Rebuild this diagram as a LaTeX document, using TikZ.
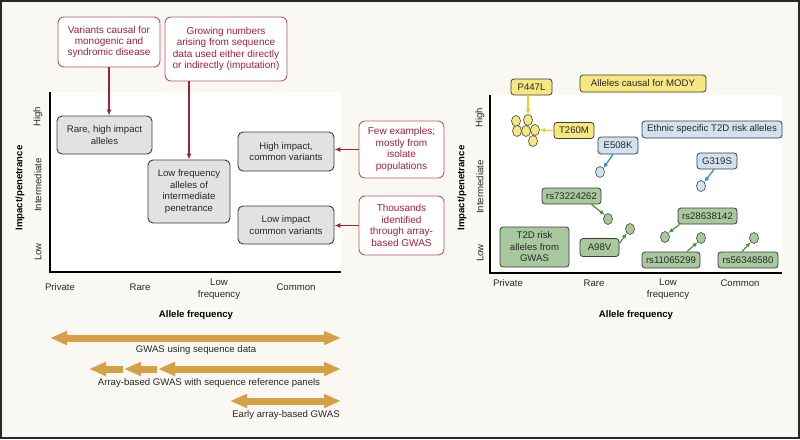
\documentclass[tikz,border=0pt]{standalone}
\usepackage{fontspec}
\setmainfont{Liberation Sans}
\usetikzlibrary{arrows.meta,shapes.geometric}

\definecolor{paper}{RGB}{249,248,243}
\definecolor{inkDark}{RGB}{40,40,40}
\definecolor{noteRed}{RGB}{163,32,56}
\definecolor{noteEdge}{RGB}{192,84,104}
\definecolor{boxGray}{RGB}{226,226,226}
\definecolor{edgeDark}{RGB}{60,60,60}
\definecolor{gwasOrange}{RGB}{214,160,70}
\definecolor{modyFill}{RGB}{246,232,128}
\definecolor{modyArrow}{RGB}{240,206,40}
\definecolor{ethFill}{RGB}{208,226,240}
\definecolor{ethArrow}{RGB}{40,140,205}
\definecolor{gwFill}{RGB}{168,200,158}
\definecolor{gwArrow}{RGB}{70,150,50}

\begin{document}
\begin{tikzpicture}[
    x=1pt, y=-1pt,
    every node/.style={font=\fontsize{9.6}{11.5}\selectfont, text=inkDark, inner sep=0pt},
    note/.style={rectangle, rounded corners=6pt, draw=noteEdge, fill=white, text=noteRed, align=center, line width=0.9pt, font=\fontsize{10}{11.4}\selectfont},
    cat/.style={rectangle, rounded corners=5pt, draw=edgeDark, fill=boxGray, align=center, line width=0.9pt},
    label/.style={rectangle, rounded corners=3pt, draw=edgeDark, line width=0.8pt, align=center, minimum height=16pt},
    allele/.style={ellipse, draw=edgeDark, line width=0.6pt, minimum width=9pt, minimum height=11pt},
    axtitle/.style={font=\fontsize{9.6}{11.5}\selectfont\bfseries, text=black},
    redarr/.style={draw=noteRed, line width=1.2pt, -{Latex[length=6pt,width=5pt]}},
    modyarr/.style={draw=modyArrow, line width=1.2pt, -{Latex[length=5pt,width=4.5pt]}},
    etharr/.style={draw=ethArrow, line width=1.2pt, -{Latex[length=5pt,width=4.5pt]}},
    gwarr/.style={draw=gwArrow, line width=1.2pt, -{Latex[length=5pt,width=4.5pt]}},
    gwasbar/.style={draw=gwasOrange, line width=7pt}
]
    % Frame and plot areas
    \fill[paper] (0,0) rectangle (800,439);
    \draw[inkDark, line width=2pt] (1,1) rectangle (799,438);
    \fill[white] (50,92) rectangle (341,272);
    \fill[white] (490,95) rectangle (782,273);
    \draw[black, line width=1.3pt] (50,92) -- (50,272) -- (341,272);
    \draw[black, line width=1.3pt] (490,95) -- (490,273) -- (782,273);
    \useasboundingbox (0,0) rectangle (800,439);

    % Left panel: categories
    \node[cat, minimum width=95pt, minimum height=38pt] (rarehigh) at (104.5,135) {Rare, high impact\\alleles};
    \node[cat, minimum width=82pt, minimum height=63pt] (lowfreq) at (189,191.5) {Low frequency\\alleles of\\intermediate\\penetrance};
    \node[cat, minimum width=96pt, minimum height=39pt] (highcommon) at (286,151.5) {High impact,\\common variants};
    \node[cat, minimum width=96pt, minimum height=38pt] (lowcommon) at (286,225) {Low impact\\common variants};

    % Left panel: notes
    \node[note, minimum width=102pt, minimum height=50pt] (causal) at (109,42) {Variants causal for\\monogenic and\\syndromic disease};
    \node[note, minimum width=122pt, minimum height=64pt] (growing) at (226,49) {Growing numbers\\arising from sequence\\data used either directly\\or indirectly (imputation)};
    \node[note, minimum width=85pt, minimum height=57pt] (few) at (401.5,149.5) {Few examples;\\mostly from\\isolate\\populations};
    \node[note, minimum width=85pt, minimum height=59pt] (thousands) at (401.5,225.5) {Thousands\\identified\\through array-\\based GWAS};

    \draw[redarr] (causal.south) -- (causal.south |- rarehigh.north);
    \draw[redarr] (lowfreq.north |- growing.south) -- (lowfreq.north);
    \draw[redarr] (few.west) -- (few.west -| highcommon.east);
    \draw[redarr] (thousands.west) -- (thousands.west -| lowcommon.east);

    % Left panel: axes labels
    \node[axtitle, rotate=90] (lyaxis) at (20,188) {Impact/penetrance};
    \node[rotate=90] (lhigh) at (38,117) {High};
    \node[rotate=90] (lmid) at (38,185) {Intermediate};
    \node[rotate=90] (llow) at (38,252) {Low};
    \node (lpriv) at (60,287) {Private};
    \node (lrare) at (140,287) {Rare};
    \node[align=center] (llowf) at (219,289) {Low\\frequency};
    \node (lcommon) at (296,287) {Common};
    \node[axtitle] (lxaxis) at (196,315) {Allele frequency};

    % GWAS ranges
    \coordinate (g1a) at (50,338);  \coordinate (g1b) at (341,338);
    \coordinate (g2a) at (89,369);  \coordinate (g2b) at (123,369);
    \coordinate (g2c) at (124,369); \coordinate (g2d) at (157,369);
    \coordinate (g2e) at (158,369); \coordinate (g2f) at (341,369);
    \coordinate (g3a) at (230,401); \coordinate (g3b) at (341,401);
    \draw[gwasbar, {Triangle[length=17pt,width=13pt]}-{Triangle[length=17pt,width=13pt]}] (g1a) -- (g1b);
    \draw[gwasbar, -{Triangle[length=17pt,width=13pt]}] (g2b) -- (g2a);
    \draw[gwasbar, -{Triangle[length=17pt,width=13pt]}] (g2d) -- (g2c);
    \draw[gwasbar, {Triangle[length=17pt,width=13pt]}-{Triangle[length=17pt,width=13pt]}] (g2e) -- (g2f);
    \draw[gwasbar, {Triangle[length=17pt,width=13pt]}-{Triangle[length=17pt,width=13pt]}] (g3a) -- (g3b);
    \node (gseq) at (196,350) {GWAS using sequence data};
    \node (garray) at (209,383) {Array-based GWAS with sequence reference panels};
    \node (gearly) at (286,415) {Early array-based GWAS};

    % Right panel: MODY alleles
    \node[label, fill=modyFill, minimum width=126pt, minimum height=17pt] (mody) at (643,83.5) {Alleles causal for MODY};
    \node[label, fill=modyFill, minimum width=41pt] (p447) at (531.5,87) {P447L};
    \node[label, fill=modyFill, minimum width=40pt] (t260) at (574,130.5) {T260M};
    \node[allele, fill=modyFill] (y1) at (516,121) {};
    \node[allele, fill=modyFill] (y2) at (528,120) {};
    \node[allele, fill=modyFill] (y3) at (517,131) {};
    \node[allele, fill=modyFill] (y4) at (526,131) {};
    \node[allele, fill=modyFill] (y5) at (535,130) {};
    \node[allele, fill=modyFill] (y6) at (533,141) {};
    \draw[modyarr] (y2.north |- p447.south) -- (y2.north);
    \draw[modyarr] (t260.west) -- (y5.east);

    % Right panel: ethnic specific alleles
    \node[label, fill=ethFill, minimum width=140pt, minimum height=17pt] (ethnic) at (712,129.5) {Ethnic specific T2D risk alleles};
    \node[label, fill=ethFill, minimum width=40pt, minimum height=17pt] (e508) at (618,145.5) {E508K};
    \node[label, fill=ethFill, minimum width=40pt] (g319) at (717,161) {G319S};
    \node[allele, fill=ethFill] (b1) at (600,172) {};
    \node[allele, fill=ethFill] (b2) at (701,186) {};
    \draw[etharr] ([xshift=-5pt]e508.south) -- (b1.north east);
    \draw[etharr] ([xshift=-3pt]g319.south) -- (b2.north east);

    % Right panel: GWAS alleles
    \node[label, fill=gwFill, minimum width=69pt, minimum height=40pt] (t2d) at (534.5,247) {T2D risk\\alleles from\\GWAS};
    \node[label, fill=gwFill, minimum width=59pt] (rs732) at (571.5,196) {rs73224262};
    \node[label, fill=gwFill, minimum width=39pt, minimum height=18pt] (a98v) at (599.5,247.5) {A98V};
    \node[label, fill=gwFill, minimum width=59pt] (rs286) at (707.5,216) {rs28638142};
    \node[label, fill=gwFill, minimum width=58pt] (rs110) at (671,260) {rs11065299};
    \node[label, fill=gwFill, minimum width=60pt] (rs563) at (748,260) {rs56348580};
    \node[allele, fill=gwFill] (c1) at (608,219) {};
    \node[allele, fill=gwFill] (c2) at (630,229) {};
    \node[allele, fill=gwFill] (c3) at (665,237) {};
    \node[allele, fill=gwFill] (c4) at (701,238) {};
    \node[allele, fill=gwFill] (c5) at (754,238) {};
    \draw[gwarr] ([xshift=20pt]rs732.south) -- (c1.north west);
    \draw[gwarr] ([yshift=4pt]a98v.east) -- (c2.south west);
    \draw[gwarr] ([xshift=2pt]rs286.south west) -- (c3.north east);
    \draw[gwarr] ([xshift=16pt]rs110.north) -- (c4.south west);
    \draw[gwarr] ([xshift=-6pt]rs563.north) -- (c5.south west);

    % Right panel: axes labels
    \node[axtitle, rotate=90] (ryaxis) at (462,188) {Impact/penetrance};
    \node[rotate=90] (rhigh) at (480,118) {High};
    \node[rotate=90] (rmid) at (480,187) {Intermediate};
    \node[rotate=90] (rlow) at (480,253) {Low};
    \node (rpriv) at (508,283) {Private};
    \node (rrare) at (594,283) {Rare};
    \node[align=center] (rlowf) at (668,289) {Low\\frequency};
    \node (rcommon) at (740,283) {Common};
    \node[axtitle] (rxaxis) at (636,315) {Allele frequency};
\end{tikzpicture}
\end{document}
